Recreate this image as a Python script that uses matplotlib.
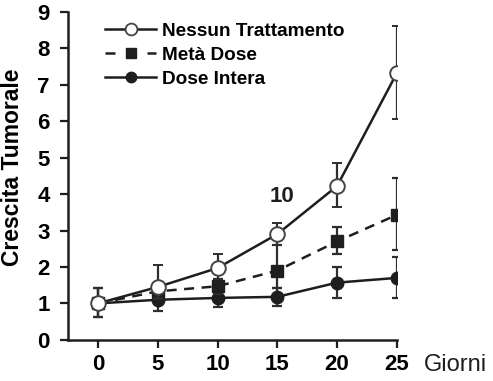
import matplotlib
matplotlib.use("Agg")
import matplotlib.pyplot as plt
from matplotlib.lines import Line2D

plt.rcParams["font.family"] = ["Liberation Sans", "DejaVu Sans"]

# ---- data -----------------------------------------------------------
giorni = [0, 5, 10, 15, 20, 25]

nessun = [1.0, 1.45, 1.97, 2.9, 4.22, 7.32]
nessun_lo = [0.37, 0.3, 0.3, 0.3, 0.58, 1.25]
nessun_hi = [0.42, 0.6, 0.38, 0.3, 0.63, 1.3]

meta = [1.0, 1.33, 1.47, 1.9, 2.7, 3.43]
meta_lo = [0.37, 0.2, 0.2, 0.48, 0.34, 0.96]
meta_hi = [0.42, 0.2, 0.2, 0.7, 0.4, 1.02]

intera = [1.0, 1.1, 1.15, 1.18, 1.57, 1.7]
intera_lo = [0.37, 0.32, 0.25, 0.25, 0.41, 0.54]
intera_hi = [0.42, 0.32, 0.25, 0.25, 0.43, 0.58]

series_labels = ["Nessun Trattamento", "Metà Dose", "Dose Intera"]
y_ticks = list(range(0, 10))

# ---- plot -----------------------------------------------------------
fig = plt.figure(figsize=(4.93, 3.81), dpi=100)
ax = fig.add_axes([0.138, 0.108, 0.667, 0.861])

ink = "#1e1e1e"
err_kw = dict(ecolor="#2e2e2e", elinewidth=1.6, capsize=3.5, capthick=1.6)

ax.errorbar(giorni, intera, yerr=[intera_lo, intera_hi], color=ink, lw=1.8,
            marker="o", ms=9, mfc=ink, mec=ink, zorder=3, **err_kw)
ax.errorbar(giorni, meta, yerr=[meta_lo, meta_hi], color=ink, lw=1.8,
            ls=(0, (4, 3)), marker="s", ms=8.5, mfc=ink, mec=ink,
            zorder=4, **err_kw)
ax.errorbar(giorni, nessun, yerr=[nessun_lo, nessun_hi], color=ink, lw=1.8,
            marker="o", ms=10.5, mfc="white", mec="#444444", mew=1.4,
            zorder=5, **err_kw)

ax.text(15.4, 3.92, "10", fontsize=16, fontweight="bold", ha="center",
        va="center", color=ink)

ax.set_xlim(-2.5, 25)
ax.set_ylim(0, 9)
ax.set_xticks(giorni)
ax.set_yticks(y_ticks)
for side in ("top", "right"):
    ax.spines[side].set_visible(False)
for side in ("left", "bottom"):
    ax.spines[side].set_linewidth(1.8)
    ax.spines[side].set_color(ink)
ax.tick_params(width=1.6, length=6, color=ink, labelsize=16, pad=7)
ax.tick_params(axis="x", pad=4)
for lab in ax.get_xticklabels() + ax.get_yticklabels():
    lab.set_fontweight("bold")

ax.set_ylabel("Crescita Tumorale", fontsize=16.5, fontweight="bold")
ax.yaxis.set_label_coords(-0.135, 0.525)
fig.text(0.923, 0.043, "Giorni", fontsize=17, ha="center", va="center",
         color=ink)

# legend handles: line + marker only, no error bars
handles = [
    Line2D([], [], color=ink, lw=1.8, marker="o", ms=8.5, mfc="white",
           mec="#444444", mew=1.3),
    Line2D([], [], color=ink, lw=1.8, ls=(0, (4, 4.4)), marker="s", ms=6.5,
           mfc=ink, mec=ink),
    Line2D([], [], color=ink, lw=1.8, marker="o", ms=7.5, mfc=ink, mec=ink),
]
ax.legend(handles, series_labels, loc="upper left",
          bbox_to_anchor=(0.06, 1.02), frameon=False,
          handlelength=2.7, handletextpad=0.3, labelspacing=0.36,
          prop={"weight": "bold", "size": 13.7})

fig.savefig("out.png", dpi=100)
